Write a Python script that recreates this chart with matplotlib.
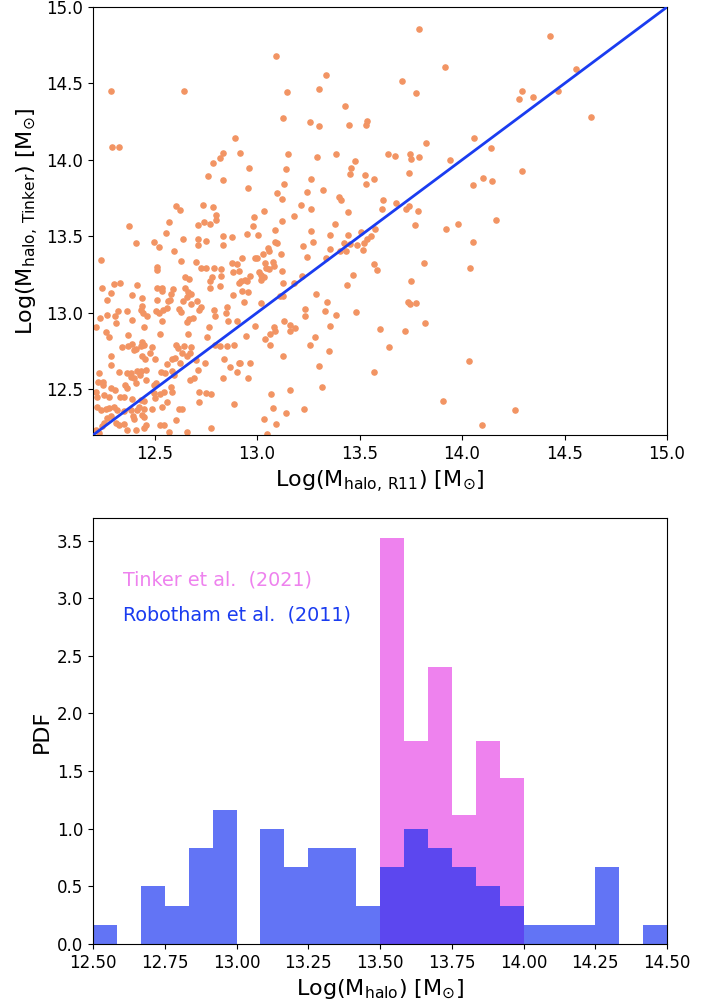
import matplotlib
matplotlib.use('Agg')
import matplotlib.pyplot as plt
import numpy as np

# halo masses: (log M_R11, log M_Tinker)
pts = [
    (13.093, 14.68), (13.337, 14.557), (12.289, 14.453), (12.643, 14.453), (13.147, 14.444),
    (13.30, 14.466), (13.43, 14.35), (13.127, 14.274), (13.256, 14.248), (13.30, 14.22),
    (13.449, 14.228), (13.535, 14.256), (13.53, 14.23), (12.892, 14.145), (12.294, 14.082),
    (12.328, 14.082), (12.832, 14.047), (12.817, 14.012), (12.916, 14.043), (12.783, 13.978),
    (13.153, 14.037), (13.291, 14.017), (13.387, 14.041), (13.639, 14.041), (12.962, 13.945),
    (12.763, 13.893), (12.835, 13.869), (13.139, 13.94), (13.48, 13.99), (13.46, 13.949),
    (13.454, 13.91), (13.525, 13.9), (13.53, 13.84), (13.571, 13.877), (13.265, 13.877),
    (13.134, 13.842), (12.957, 13.816), (13.096, 13.781), (13.123, 13.744), (13.246, 13.79),
    (13.322, 13.805), (13.398, 13.757), (13.41, 13.738), (13.615, 13.738), (13.61, 13.677),
    (13.442, 13.661), (13.213, 13.707), (13.265, 13.677), (13.181, 13.635), (13.036, 13.666),
    (12.986, 13.629), (12.603, 13.697), (12.624, 13.672), (12.737, 13.703), (12.783, 13.694),
    (12.802, 13.64),
    (13.79, 14.858), (14.431, 14.81), (13.917, 14.606), (14.557, 14.597), (13.705, 14.514),
    (13.776, 14.44), (14.277, 14.398), (14.295, 14.451), (14.346, 14.413), (14.466, 14.453),
    (14.628, 14.279), (14.057, 14.145), (14.143, 14.08), (13.826, 14.109), (13.675, 14.026),
    (13.748, 14.039), (13.751, 14.008), (13.788, 14.017), (13.94, 13.997), (13.74, 13.916),
    (14.294, 13.925), (14.053, 13.834), (14.102, 13.88), (14.146, 13.864), (13.68, 13.718),
    (13.725, 13.679), (13.743, 13.698), (13.785, 13.668), (13.772, 13.574), (13.92, 13.548),
    (13.978, 13.579), (14.164, 13.609), (14.055, 13.461), (13.815, 13.326), (14.039, 13.295),
    (13.751, 13.208), (13.738, 13.073), (13.746, 13.058), (13.774, 13.064), (13.82, 12.931),
    (13.602, 12.894), (13.723, 12.879), (13.645, 12.776), (14.032, 12.687), (13.907, 12.421),
    (14.257, 12.362), (14.097, 12.266),
    (12.947, 12.848), (13.061, 12.863), (13.038, 12.829), (13.062, 12.787), (13.087, 12.88),
    (13.16, 12.88), (13.283, 12.844), (13.257, 12.791), (13.35, 12.75), (12.919, 12.67),
    (12.965, 12.674), (13.127, 12.72), (13.3, 12.652), (13.569, 12.615), (12.958, 12.576),
    (13.163, 12.497), (13.317, 12.513), (13.069, 12.471), (13.077, 12.379), (13.139, 12.347),
    (13.228, 12.369), (13.033, 12.303), (13.091, 12.27), (13.051, 12.207),
    (13.122, 13.6), (12.979, 13.568), (12.95, 13.513), (13.005, 13.507), (13.379, 13.581),
    (13.265, 13.535), (13.09, 13.542), (13.355, 13.511), (13.444, 13.509), (13.507, 13.53),
    (13.558, 13.502), (13.577, 13.546), (13.086, 13.461), (13.098, 13.455), (13.272, 13.463),
    (13.226, 13.435), (13.426, 13.459), (13.454, 13.45), (13.488, 13.443), (13.52, 13.459),
    (13.537, 13.481), (13.357, 13.42), (13.052, 13.422), (13.059, 13.404), (13.028, 13.383),
    (12.992, 13.36), (13.0, 13.36), (13.116, 13.385), (13.403, 13.404), (13.436, 13.402),
    (13.519, 13.409), (13.246, 13.363), (13.335, 13.358), (12.926, 13.356), (13.038, 13.328),
    (13.08, 13.332), (13.085, 13.308), (13.046, 13.295), (13.057, 13.286), (13.124, 13.275),
    (13.009, 13.267), (13.017, 13.247), (13.036, 13.232), (13.02, 13.215), (12.942, 13.215),
    (12.952, 13.21), (12.968, 13.243), (12.921, 13.208), (13.217, 13.241), (13.127, 13.197),
    (13.179, 13.193), (13.572, 13.317), (13.585, 13.282), (13.469, 13.245), (13.437, 13.184),
    (12.929, 13.143), (12.955, 13.138), (13.288, 13.125), (13.111, 13.11), (13.127, 13.11),
    (12.935, 13.073), (13.017, 13.062), (13.342, 13.069), (13.233, 13.025), (13.33, 13.012),
    (13.485, 13.003), (13.233, 12.981), (13.384, 12.986), (13.13, 12.944), (13.085, 12.907),
    (12.988, 12.912), (13.163, 12.922), (13.187, 12.899), (13.358, 12.916),
    (12.375, 13.568), (12.572, 13.592), (12.713, 13.574), (12.74, 13.596), (12.77, 13.579),
    (12.799, 13.607), (12.555, 13.52), (12.411, 13.459), (12.495, 13.465), (12.52, 13.428),
    (12.64, 13.481), (12.71, 13.481), (12.711, 13.443), (12.75, 13.472), (12.835, 13.5),
    (12.879, 13.496), (12.836, 13.446), (12.594, 13.404), (12.239, 13.343), (12.63, 13.337),
    (12.701, 13.33), (12.51, 13.3), (12.513, 13.282), (12.729, 13.295), (12.749, 13.295),
    (12.788, 13.295), (12.822, 13.284), (12.879, 13.324), (12.903, 13.321), (12.884, 13.265),
    (12.91, 13.273), (12.648, 13.234), (12.667, 13.221), (12.77, 13.208), (12.778, 13.232),
    (12.773, 13.16), (12.822, 13.241), (12.818, 13.177), (12.304, 13.19), (12.33, 13.195),
    (12.245, 13.164), (12.416, 13.182), (12.286, 13.129), (12.391, 13.116), (12.511, 13.162),
    (12.536, 13.164), (12.538, 13.143), (12.591, 13.154), (12.578, 13.123), (12.575, 13.084),
    (12.565, 13.075), (12.65, 13.16), (12.661, 13.138), (12.676, 13.123), (12.656, 13.101),
    (12.438, 13.097), (12.27, 13.084), (12.51, 13.082), (12.637, 13.077), (12.705, 13.079),
    (12.676, 13.058), (12.729, 13.038), (12.716, 13.018), (12.44, 13.044), (12.435, 13.018),
    (12.445, 12.997), (12.367, 13.014), (12.321, 13.01), (12.266, 12.988), (12.305, 12.979),
    (12.232, 12.964), (12.216, 12.905), (12.505, 13.014), (12.523, 12.997), (12.543, 13.018),
    (12.562, 13.031), (12.465, 12.981), (12.388, 12.955), (12.538, 12.948), (12.619, 13.027),
    (12.63, 13.007), (12.667, 12.957), (12.687, 12.968), (12.66, 12.942), (12.789, 13.018),
    (12.793, 12.977), (12.854, 13.036), (12.85, 13.001), (12.856, 12.948), (12.9, 12.948),
    (12.911, 13.193), (12.882, 13.116), (12.765, 12.905), (12.448, 12.909), (12.313, 12.931),
    (12.261, 12.876), (12.278, 12.84), (12.37, 12.855), (12.528, 12.859), (12.664, 12.861),
    (12.757, 12.844), (12.339, 12.778), (12.37, 12.783), (12.392, 12.796), (12.44, 12.807),
    (12.451, 12.789), (12.432, 12.783), (12.49, 12.774), (12.607, 12.789), (12.614, 12.772),
    (12.643, 12.783), (12.676, 12.774), (12.401, 12.757), (12.411, 12.765), (12.477, 12.739),
    (12.635, 12.735), (12.658, 12.719), (12.672, 12.739), (12.286, 12.717), (12.44, 12.717),
    (12.453, 12.698), (12.5, 12.696), (12.586, 12.696), (12.598, 12.704), (12.562, 12.667),
    (12.623, 12.67), (12.7, 12.691), (12.744, 12.67), (12.797, 12.789), (12.818, 12.781),
    (12.854, 12.783), (12.89, 12.787), (12.841, 12.698), (12.911, 12.67), (12.867, 12.644),
    (12.231, 12.608), (12.286, 12.657), (12.326, 12.611), (12.367, 12.604), (12.387, 12.608),
    (12.383, 12.582), (12.416, 12.619), (12.435, 12.619), (12.456, 12.626), (12.428, 12.593),
    (12.401, 12.572), (12.411, 12.543), (12.456, 12.56), (12.534, 12.611), (12.549, 12.608),
    (12.505, 12.539), (12.497, 12.528), (12.583, 12.619), (12.594, 12.593), (12.671, 12.56),
    (12.692, 12.572), (12.713, 12.626), (12.835, 12.572), (12.903, 12.615), (12.224, 12.545),
    (12.248, 12.545), (12.247, 12.528), (12.213, 12.484), (12.221, 12.451), (12.286, 12.506),
    (12.305, 12.495), (12.354, 12.528), (12.367, 12.506), (12.253, 12.462), (12.278, 12.451),
    (12.331, 12.447), (12.351, 12.451), (12.388, 12.436), (12.432, 12.43), (12.448, 12.421),
    (12.497, 12.474), (12.5, 12.441), (12.529, 12.469), (12.578, 12.517), (12.586, 12.484),
    (12.559, 12.419), (12.546, 12.484), (12.718, 12.484), (12.749, 12.474), (12.777, 12.469),
    (12.716, 12.419), (12.89, 12.404), (12.221, 12.382), (12.237, 12.364), (12.261, 12.371),
    (12.278, 12.375), (12.302, 12.382), (12.318, 12.364), (12.351, 12.36), (12.383, 12.364),
    (12.394, 12.327), (12.399, 12.303), (12.416, 12.364), (12.424, 12.386), (12.448, 12.369),
    (12.44, 12.332), (12.448, 12.317), (12.486, 12.369), (12.538, 12.382), (12.619, 12.369),
    (12.635, 12.373), (12.603, 12.299), (12.27, 12.31), (12.286, 12.325), (12.253, 12.277),
    (12.245, 12.26), (12.31, 12.281), (12.326, 12.266), (12.351, 12.27), (12.367, 12.233),
    (12.408, 12.233), (12.448, 12.244), (12.456, 12.266), (12.529, 12.266), (12.546, 12.266),
    (12.573, 12.223), (12.66, 12.223), (12.777, 12.249), (12.213, 12.233), (12.229, 12.212),
]
m_r11 = [p[0] for p in pts]
m_tinker = [p[1] for p in pts]

# histogram counts per bin (bin width 1/12 dex from 12.5 to 14.5)
bin_edges = np.linspace(12.5, 14.5, 25)
robotham_counts = [1, 0, 3, 2, 5, 7, 0, 6, 4, 5, 5, 2, 4, 6, 5, 4, 3, 2, 1, 1, 1, 4, 0, 1]
tinker_counts = [0] * 12 + [22, 11, 15, 7, 11, 9] + [0] * 6

centers = 0.5 * (bin_edges[1:] + bin_edges[:-1])

fig = plt.figure(figsize=(7.08, 10.07), dpi=100)

ax1 = fig.add_axes([0.1314, 0.568, 0.8107, 0.425])
ax1.scatter(m_r11, m_tinker, s=14, color='#f29463', zorder=2)
ax1.plot([12.2, 15.0], [12.2, 15.0], color='#1a3cf0', lw=2, zorder=3)
ax1.set_xlim(12.2, 15.0)
ax1.set_ylim(12.2, 15.0)
ax1.set_xticks([12.5, 13.0, 13.5, 14.0, 14.5, 15.0])
ax1.set_yticks([12.5, 13.0, 13.5, 14.0, 14.5, 15.0])
ax1.tick_params(labelsize=12)
ax1.set_xlabel(r'Log(M$_{\rm halo,\,R11}$) [M$_{\odot}$]', fontsize=16)
ax1.set_ylabel(r'Log(M$_{\rm halo,\,Tinker}$) [M$_{\odot}$]', fontsize=16)

ax2 = fig.add_axes([0.1314, 0.0626, 0.8107, 0.423])
ax2.hist(centers, bins=bin_edges, weights=tinker_counts, density=True, color='violet')
ax2.hist(centers, bins=bin_edges, weights=robotham_counts, density=True,
         color='#0a26f0', alpha=0.64)
ax2.set_xlim(12.5, 14.5)
ax2.set_xticks(np.arange(12.5, 14.51, 0.25))
ax2.set_xticklabels(['%.2f' % v for v in np.arange(12.5, 14.51, 0.25)])
ax2.tick_params(labelsize=12)
ax2.set_xlabel(r'Log(M$_{\rm halo}$) [M$_{\odot}$]', fontsize=16)
ax2.set_ylabel('PDF', fontsize=16)
ax2.text(0.052, 0.855, 'Tinker et al.  (2021)', color='violet', fontsize=13.8,
         transform=ax2.transAxes, va='center')
ax2.text(0.052, 0.772, 'Robotham et al.  (2011)', color='#1a3cf0', fontsize=13.8,
         transform=ax2.transAxes, va='center')

fig.savefig('out.png', dpi=100)
